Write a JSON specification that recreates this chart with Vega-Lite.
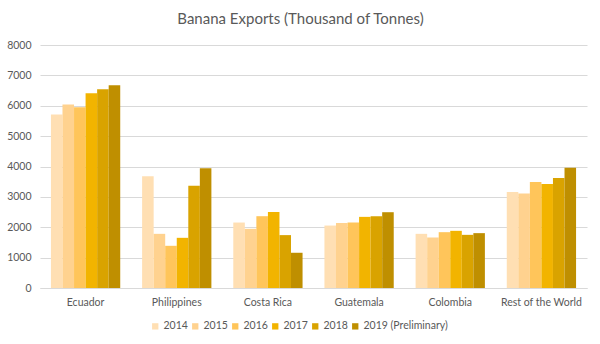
{
  "$schema": "https://vega.github.io/schema/vega-lite/v6.json",
  "width": 547,
  "height": 243,
  "autosize": "none",
  "padding": {"left": 40, "top": 45, "right": 13, "bottom": 56},
  "background": "white",
  "title": {"text": "Banana Exports (Thousand of Tonnes)", "font": "Lato", "fontSize": 15, "fontWeight": "normal", "color": "#595959", "anchor": "middle", "dx": -13, "offset": 13},
  "data": {"values": [
    {"country": "Ecuador", "year": "2014", "value": 5714},
    {"country": "Ecuador", "year": "2015", "value": 6043},
    {"country": "Ecuador", "year": "2016", "value": 5954},
    {"country": "Ecuador", "year": "2017", "value": 6414},
    {"country": "Ecuador", "year": "2018", "value": 6545},
    {"country": "Ecuador", "year": "2019 (Preliminary)", "value": 6677},
    {"country": "Philippines", "year": "2014", "value": 3678},
    {"country": "Philippines", "year": "2015", "value": 1783},
    {"country": "Philippines", "year": "2016", "value": 1389},
    {"country": "Philippines", "year": "2017", "value": 1652},
    {"country": "Philippines", "year": "2018", "value": 3370},
    {"country": "Philippines", "year": "2019 (Preliminary)", "value": 3941},
    {"country": "Costa Rica", "year": "2014", "value": 2155},
    {"country": "Costa Rica", "year": "2015", "value": 1948},
    {"country": "Costa Rica", "year": "2016", "value": 2364},
    {"country": "Costa Rica", "year": "2017", "value": 2506},
    {"country": "Costa Rica", "year": "2018", "value": 1741},
    {"country": "Costa Rica", "year": "2019 (Preliminary)", "value": 1160},
    {"country": "Guatemala", "year": "2014", "value": 2056},
    {"country": "Guatemala", "year": "2015", "value": 2144},
    {"country": "Guatemala", "year": "2016", "value": 2155},
    {"country": "Guatemala", "year": "2017", "value": 2342},
    {"country": "Guatemala", "year": "2018", "value": 2364},
    {"country": "Guatemala", "year": "2019 (Preliminary)", "value": 2495},
    {"country": "Colombia", "year": "2014", "value": 1783},
    {"country": "Colombia", "year": "2015", "value": 1663},
    {"country": "Colombia", "year": "2016", "value": 1838},
    {"country": "Colombia", "year": "2017", "value": 1882},
    {"country": "Colombia", "year": "2018", "value": 1750},
    {"country": "Colombia", "year": "2019 (Preliminary)", "value": 1806},
    {"country": "Rest of the World", "year": "2014", "value": 3162},
    {"country": "Rest of the World", "year": "2015", "value": 3108},
    {"country": "Rest of the World", "year": "2016", "value": 3491},
    {"country": "Rest of the World", "year": "2017", "value": 3425},
    {"country": "Rest of the World", "year": "2018", "value": 3622},
    {"country": "Rest of the World", "year": "2019 (Preliminary)", "value": 3962}
  ]},
  "mark": {"type": "bar"},
  "encoding": {
    "x": {"field": "country", "type": "nominal", "sort": null,
      "scale": {"paddingInner": 0.24, "paddingOuter": 0.12},
      "axis": {"title": null, "labelAngle": 0, "labelFont": "Lato", "labelFontSize": 10.5, "labelColor": "#595959", "ticks": false, "domainColor": "#D9D9D9", "labelPadding": 9}},
    "xOffset": {"field": "year", "type": "nominal", "scale": {"paddingInner": 0, "paddingOuter": 0}},
    "y": {"field": "value", "type": "quantitative",
      "scale": {"domain": [0, 8000]},
      "axis": {"title": null, "values": [0,1000,2000,3000,4000,5000,6000,7000,8000], "format": "d", "labelFont": "Lato", "labelFontSize": 10.5, "labelColor": "#595959", "ticks": false, "domain": false, "gridColor": "#D9D9D9", "labelPadding": 9}},
    "color": {"field": "year", "type": "nominal",
      "scale": {"domain": ["2014","2015","2016","2017","2018","2019 (Preliminary)"], "range": ["#FFDFB3","#FFD28F","#FFC55A","#F2B400","#D9A300","#BF8F00"]},
      "legend": {"title": null, "orient": "none", "legendX": 110, "legendY": 276, "direction": "horizontal", "symbolType": "square", "symbolSize": 40, "symbolStrokeWidth": 0, "labelFont": "Lato", "labelFontSize": 10.5, "labelColor": "#595959", "columnPadding": 2, "labelOffset": 3}}
  },
  "config": {"view": {"stroke": null}}
}
